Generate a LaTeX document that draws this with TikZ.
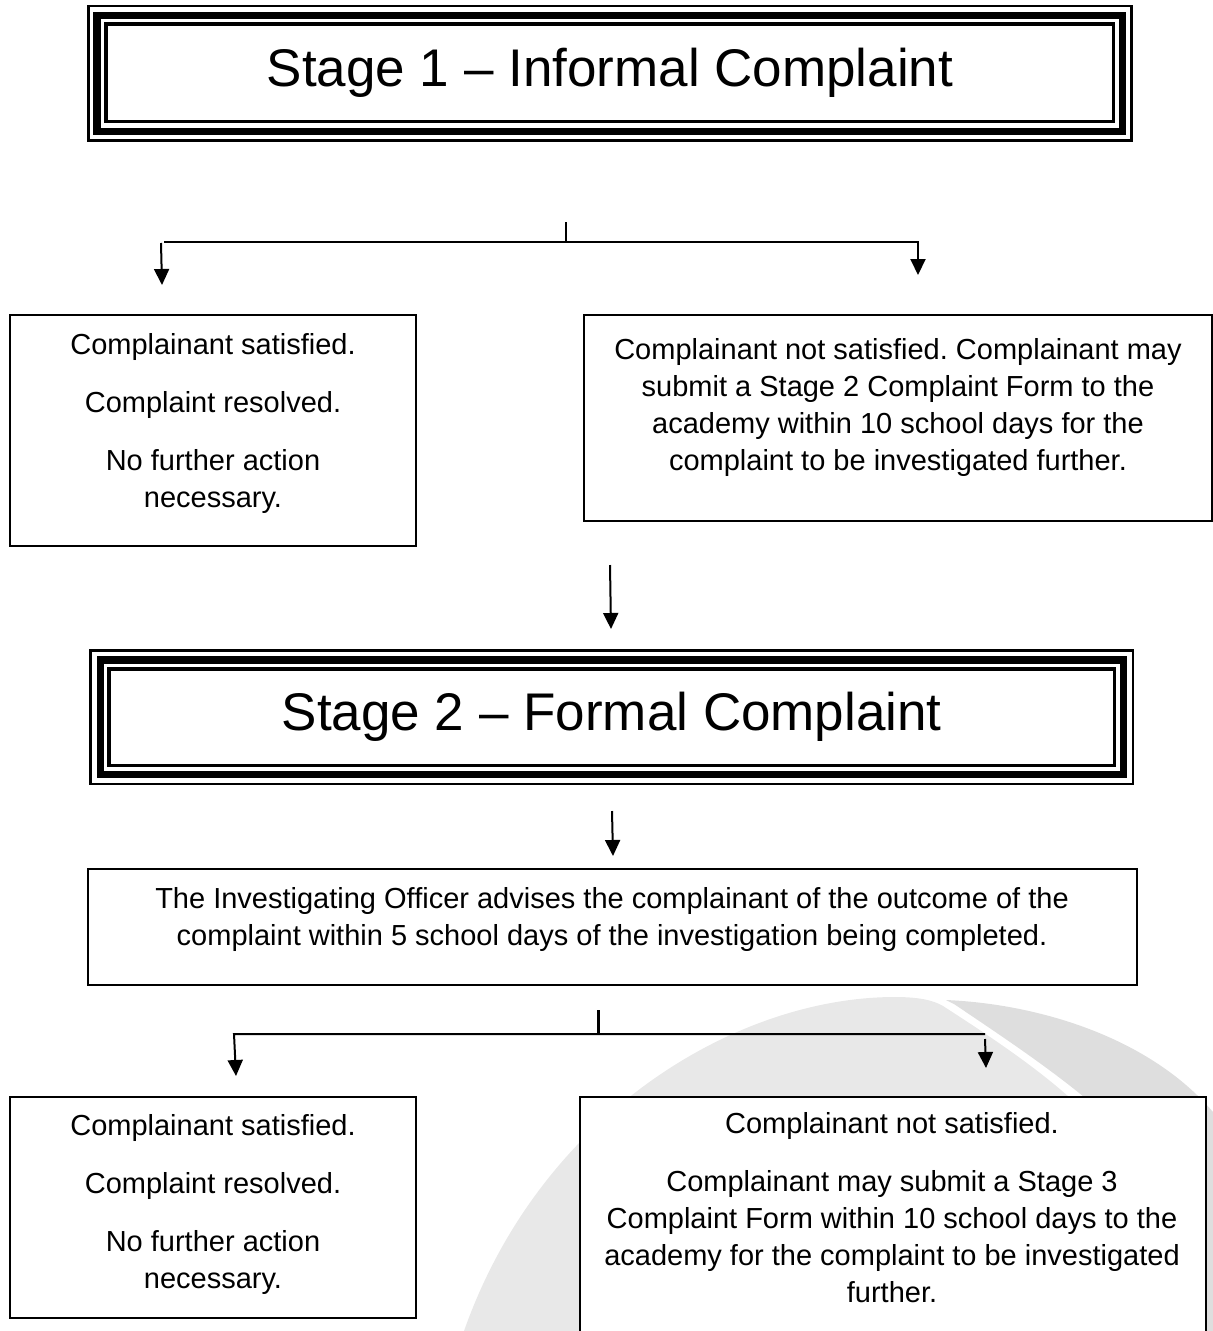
\documentclass[tikz,border=0pt]{standalone}
\usepackage{fontspec}
\setmainfont{Liberation Sans}
\usetikzlibrary{arrows.meta}
\frenchspacing
\begin{document}
\begin{tikzpicture}[x=1pt,y=-1pt,
  box/.style={draw,line width=2pt,fill=white,inner sep=0pt,outer sep=0pt},
  body/.style={font=\fontsize{29}{37}\selectfont,align=center,inner sep=0pt,anchor=north},
  conn/.style={line width=2pt},
  arr/.style={line width=2pt,-{Triangle[width=15pt,length=16pt]}},
  titlebox/.style={draw,line width=2.5pt,fill=white,font=\fontsize{53}{60}\selectfont,inner sep=0pt,outer sep=0pt},
  thickframe/.style={line width=7.5pt},
  innerframe/.style={line width=3.5pt}]
\useasboundingbox (0,0) rectangle (1213,1331);
\clip (0,0) rectangle (1213,1331);
% watermark
\fill[black!13] (946,1000) .. controls (1040,1004) and (1150,1038) .. (1213,1112) -- (1213,1331) -- (1100,1331) -- (1084,1097) .. controls (1045,1065) and (1000,1035) .. (954,1004) -- cycle;
\fill[black!9] (464,1331) .. controls (540,1115) and (735,997) .. (895,997) .. controls (918,997) and (933,1000) .. (943,1006) .. controls (988,1035) and (1033,1065) .. (1069,1097) -- (1069,1331) -- cycle;
% stage 1
\node[titlebox,minimum width=1043pt,minimum height=134.5pt] (s1) at (610,73.25) {Stage 1 – Informal Complaint};
\draw[thickframe] ([shift={(8.5,9.3)}]s1.north west) rectangle ([shift={(-9,-9)}]s1.south east);
\draw[innerframe] ([shift={(17.5,18)}]s1.north west) rectangle ([shift={(-18,-19)}]s1.south east);
% stage 2
\node[titlebox,minimum width=1042.5pt,minimum height=133.5pt] (s2) at (611.75,717.25) {Stage 2 – Formal Complaint};
\draw[thickframe] ([shift={(9.8,9.5)}]s2.north west) rectangle ([shift={(-9.5,-9.5)}]s2.south east);
\draw[innerframe] ([shift={(18.3,18.5)}]s2.north west) rectangle ([shift={(-18.5,-18.5)}]s2.south east);
% boxes
\node[box,minimum width=406pt,minimum height=231pt] (l1) at (213,430.5) {};
\node[body] (l1t) at (213,333) {Complainant satisfied.\\[21pt]Complaint resolved.\\[21pt]No further action\\necessary.};
\node[box,minimum width=628pt,minimum height=206pt] (r1) at (898,418) {};
\node[body] (r1t) at (898,338) {Complainant not satisfied. Complainant may\\submit a Stage 2 Complaint Form to the\\academy within 10 school days for the\\complaint to be investigated further.};
\node[box,minimum width=1049pt,minimum height=116pt] (io) at (612.5,927) {};
\node[body] (iot) at (612,887) {The Investigating Officer advises the complainant of the outcome of the\\complaint within 5 school days of the investigation being completed.};
\node[box,minimum width=406pt,minimum height=221pt] (l2) at (213,1207.5) {};
\node[body] (l2t) at (213,1114) {Complainant satisfied.\\[21pt]Complaint resolved.\\[21pt]No further action\\necessary.};
\node[box,minimum width=626pt,minimum height=260pt] (r2) at (893,1227) {};
\node[body] (r2t) at (892,1112) {Complainant not satisfied.\\[21pt]Complainant may submit a Stage 3\\Complaint Form within 10 school days to the\\academy for the complaint to be investigated\\further.};
% connectors top
\coordinate (a0) at (566,222);
\coordinate (a1) at (566,242);
\coordinate (aL) at (164,242);
\coordinate (aR) at (918,242);
\coordinate (aRt) at (918,275);
\coordinate (aL0) at (161,243);
\coordinate (aLt) at (162,285);
\draw[conn] (a0) -- (a1);
\draw[arr] (aL) -- (aR) -- (aRt);
\draw[arr] (aL0) -- (aLt);
% stage arrows
\coordinate (b0) at (610,565);
\coordinate (b1) at (611,629);
\draw[arr] (b0) -- (b1);
\coordinate (c0) at (612,811);
\coordinate (c1) at (613,856);
\draw[arr] (c0) -- (c1);
% connectors bottom
\coordinate (d0) at (598,1010);
\coordinate (d1) at (598,1034);
\coordinate (dL) at (234,1034);
\coordinate (dR) at (985,1034);
\coordinate (dLt) at (236,1076);
\coordinate (dR0) at (985,1039);
\coordinate (dRt) at (986,1068);
\draw[conn,line width=3pt] (d0) -- (d1);
\draw[arr] (dR) -- (dL) -- (dLt);
\draw[arr] (dR0) -- (dRt);
\end{tikzpicture}
\end{document}
